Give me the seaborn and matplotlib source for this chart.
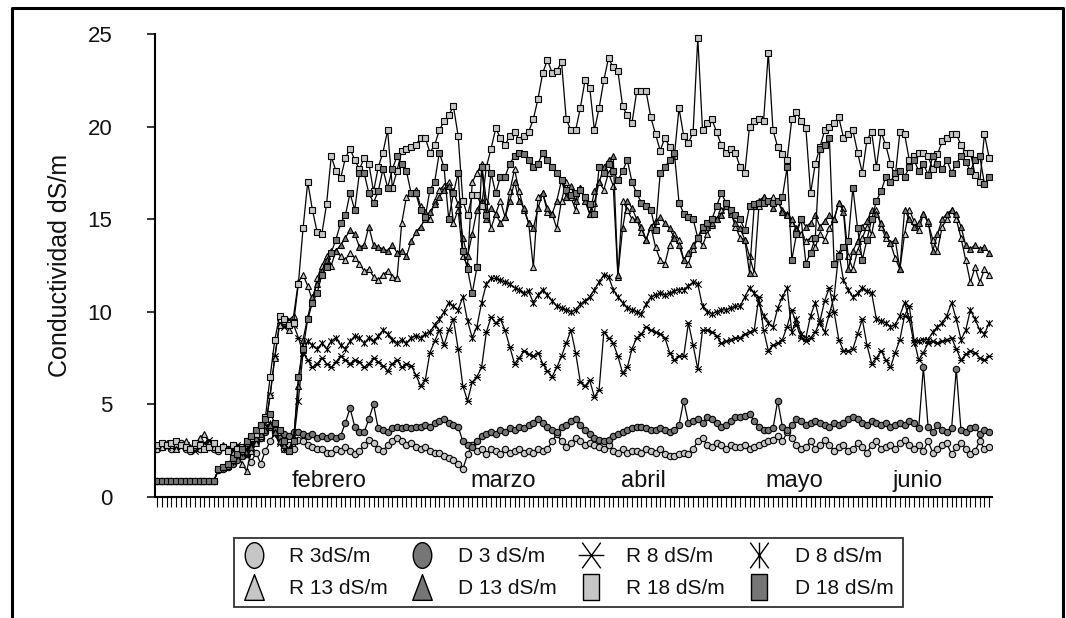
import numpy as np
import matplotlib
matplotlib.use("Agg")
import matplotlib.pyplot as plt
from matplotlib.path import Path
from matplotlib.lines import Line2D
import seaborn as sns

sns.set_style("white")
plt.rcParams["font.family"] = ["Liberation Sans", "DejaVu Sans"]

# Daily electrical conductivity (dS/m) of the drainage, mid-January to late June
r3 = [2.6, 2.7, 2.8, 2.6, 2.7, 2.9, 2.6, 2.5, 2.7, 2.6,
      2.8, 2.7, 2.6, 2.5, 2.7, 2.6, 2.4, 2.7, 2.5, 2.3,
      1.9, 2.4, 1.8, 2.5, 3.0, 3.5, 3.2, 2.6, 2.8, 2.6,
      3.1, 3.0, 2.8, 2.7, 2.6, 2.6, 2.4, 2.4, 2.6, 2.5,
      2.7, 2.5, 2.3, 2.5, 2.8, 3.1, 2.9, 2.6, 2.5, 2.8,
      3.0, 3.2, 3.0, 2.8, 2.9, 2.7, 2.6, 2.7, 2.5, 2.4,
      2.4, 2.2, 2.1, 2.0, 1.8, 1.5, 2.3, 2.8, 2.5, 2.6,
      2.3, 2.6, 2.5, 2.3, 2.6, 2.4, 2.5, 2.6, 2.4, 2.5,
      2.4, 2.6, 2.5, 2.6, 3.0, 3.4, 3.0, 2.7, 2.9, 3.2,
      3.0, 2.8, 2.9, 2.8, 2.7, 2.6, 2.8, 2.5, 2.4, 2.6,
      2.4, 2.5, 2.5, 2.4, 2.6, 2.5, 2.4, 2.6, 2.3, 2.2,
      2.2, 2.3, 2.4, 2.3, 2.6, 3.0, 3.2, 2.8, 2.7, 2.9,
      2.8, 2.6, 2.8, 2.7, 2.7, 2.8, 2.6, 2.7, 2.8, 2.9,
      3.0, 3.1, 3.3, 3.0, 3.5, 3.2, 2.8, 2.6, 2.7, 3.0,
      2.6, 2.8, 3.1, 2.8, 2.5, 2.7, 2.8, 2.5, 2.6, 2.9,
      2.7, 2.4, 2.8, 3.0, 2.6, 2.7, 2.8, 2.6, 2.9, 3.1,
      2.8, 2.6, 2.8, 2.5, 3.0, 2.4, 2.6, 2.8, 2.9, 2.3,
      2.7, 2.9, 2.6, 2.3, 2.5, 3.0, 2.6, 2.7]

d3 = [0.85, 0.85, 0.85, 0.85, 0.85, 0.85, 0.85, 0.85, 0.85, 0.85,
      0.85, 0.85, 0.85, 1.45, 1.5, 1.6, 1.8, 2.0, 2.2, 2.4,
      2.8, 3.0, 3.2, 3.5, 3.8, 3.6, 3.2, 3.4, 3.3, 3.5,
      3.5, 3.4, 3.3, 3.4, 3.2, 3.3, 3.2, 3.3, 3.2, 3.3,
      4.0, 4.8, 3.8, 3.5, 3.5, 4.2, 5.0, 3.7, 3.6, 3.5,
      3.7, 3.8, 3.7, 3.8, 3.7, 3.8, 3.8, 3.9, 3.8, 4.0,
      4.1, 4.2, 4.0, 3.9, 3.8, 3.0, 2.8, 2.7, 3.0, 3.3,
      3.4, 3.5, 3.4, 3.6, 3.5, 3.7, 3.6, 3.8, 3.7, 3.9,
      4.0, 4.2, 4.0, 3.8, 3.6, 3.5, 3.8, 3.9, 4.1, 4.2,
      3.9, 3.6, 3.4, 3.2, 3.1, 3.0, 3.1, 3.3, 3.4, 3.5,
      3.6, 3.7, 3.8, 3.8, 3.7, 3.6, 3.6, 3.7, 3.6, 3.5,
      3.6, 3.9, 5.2, 4.0, 4.1, 4.2, 4.0, 4.3, 4.2, 4.0,
      3.8, 3.9, 4.1, 4.3, 4.3, 4.4, 4.5, 4.1, 3.8, 3.6,
      3.6, 3.7, 5.2, 3.8, 3.6, 3.9, 4.2, 4.1, 3.9, 4.0,
      4.1, 4.0, 3.9, 3.8, 4.0, 3.9, 4.0, 4.2, 4.3, 4.2,
      4.0, 3.9, 4.1, 4.0, 3.9, 4.0, 3.8, 3.9, 4.0, 3.9,
      4.1, 4.0, 3.7, 7.0, 3.8, 3.5, 3.9, 3.6, 3.5, 3.7,
      6.9, 3.6, 3.5, 3.7, 3.8, 3.4, 3.6, 3.5]

r8 = [2.7, 2.8, 2.7, 2.9, 2.6, 2.7, 2.8, 2.6, 2.5, 2.7,
      2.9, 3.1, 2.8, 2.6, 2.7, 2.5, 2.6, 2.8, 2.4, 2.2,
      2.6, 3.0, 3.2, 3.8, 5.5, 7.6, 9.4, 9.2, 9.6, 9.3,
      8.6, 7.8, 7.4, 7.0, 7.2, 7.5, 7.2, 7.0, 7.3, 7.6,
      7.4, 7.2, 7.4, 7.3, 7.0, 7.2, 7.5, 7.3, 7.1, 6.8,
      7.2, 7.4, 7.0, 7.2, 7.1, 6.6, 6.0, 6.3, 7.8, 8.4,
      9.0, 8.2, 9.0, 9.6, 8.0, 6.0, 5.2, 6.2, 6.5, 7.0,
      8.9, 9.7, 9.4, 9.6, 9.0, 8.1, 7.2, 7.5, 7.9, 7.7,
      7.6, 7.8, 7.2, 6.8, 6.5, 7.0, 7.6, 8.3, 9.0, 7.8,
      6.2, 6.0, 6.3, 5.4, 5.8, 8.9, 8.6, 8.3, 7.6, 6.7,
      7.0, 8.0, 8.6, 8.8, 9.2, 9.0, 8.9, 8.8, 8.6, 7.8,
      7.4, 7.6, 7.6, 9.4, 8.2, 6.9, 9.0, 9.0, 8.9, 8.7,
      8.3, 8.4, 8.5, 8.6, 8.6, 8.8, 8.9, 9.0, 10.8, 9.0,
      7.9, 8.2, 8.3, 8.5, 9.2, 10.1, 9.3, 8.6, 8.4, 8.6,
      8.9, 9.5, 10.6, 11.3, 10.0, 8.5, 7.9, 7.9, 8.0, 8.8,
      9.6, 8.2, 7.2, 7.5, 7.9, 7.4, 7.0, 7.8, 8.5, 9.8,
      10.3, 8.5, 7.4, 7.8, 8.3, 8.4, 8.3, 8.4, 8.5, 8.6,
      8.0, 7.4, 7.7, 7.9, 7.8, 7.5, 7.4, 7.6]

d8 = [0.85, 0.85, 0.85, 0.85, 0.85, 0.85, 0.85, 0.85, 0.85, 0.85,
      0.85, 0.85, 0.85, 1.5, 1.55, 1.7, 1.9, 2.2, 2.4, 2.6,
      2.9, 3.1, 3.3, 3.8, 4.0, 3.4, 2.9, 2.6, 2.5, 3.0,
      5.2, 7.8, 8.4, 8.2, 8.0, 8.3, 8.0, 8.4, 8.6, 8.2,
      8.0, 8.4, 8.7, 8.6, 8.3, 8.6, 8.4, 8.7, 9.0, 8.8,
      8.5, 8.3, 8.5, 8.3, 8.6, 8.7, 8.6, 8.8, 8.9, 9.3,
      9.6, 10.0, 10.5, 10.3, 10.1, 10.8, 9.5, 8.6, 9.2, 10.5,
      11.5, 11.8, 11.8, 11.7, 11.6, 11.5, 11.3, 11.2, 11.0, 11.1,
      10.5, 10.9, 11.2, 10.9, 10.6, 10.3, 10.2, 10.1, 10.0, 10.1,
      10.4, 10.6, 10.8, 11.2, 11.6, 12.0, 11.9, 11.2, 10.8, 10.5,
      10.2, 10.1, 10.0, 9.9, 10.4, 10.8, 10.9, 11.0, 10.9, 11.0,
      11.1, 11.2, 11.2, 11.4, 11.6, 11.5, 10.3, 10.0, 9.9, 10.0,
      10.1, 10.1, 10.2, 10.3, 10.3, 10.8, 11.3, 11.0, 10.5, 9.8,
      9.4, 9.2, 10.2, 10.8, 11.3, 8.9, 9.6, 8.8, 8.6, 9.8,
      10.5, 9.4, 8.9, 9.9, 10.8, 13.2, 11.7, 11.2, 10.8, 11.0,
      11.3, 11.1, 11.0, 9.6, 9.5, 9.4, 9.2, 9.3, 9.8, 10.5,
      9.6, 8.3, 8.4, 8.5, 8.5, 8.9, 9.2, 9.4, 9.8, 10.5,
      9.6, 8.5, 9.0, 10.1, 9.6, 9.0, 8.8, 9.4]

r13 = [2.8, 2.7, 2.9, 2.8, 2.6, 2.8, 3.0, 2.7, 2.8, 3.2,
       3.4, 2.9, 2.7, 2.6, 2.8, 2.6, 2.4, 2.3, 1.8, 1.4,
       2.5, 2.9, 3.3, 3.8, 5.5, 7.5, 9.3, 9.5, 9.0, 9.8,
       11.6, 12.0, 11.4, 10.6, 11.8, 12.5, 13.0, 12.5, 13.3, 13.0,
       12.8, 13.2, 12.9, 12.6, 12.2, 12.3, 11.9, 11.7, 12.0, 12.2,
       11.9, 11.8, 14.8, 16.2, 16.4, 16.6, 15.7, 15.4, 15.0, 16.0,
       16.6, 16.8, 17.0, 14.8, 15.5, 13.0, 12.5, 17.0, 17.5, 18.0,
       16.0, 14.5, 15.3, 16.0, 15.1, 16.5, 17.7, 16.5, 15.5, 14.8,
       12.4, 16.2, 16.4, 15.4, 15.3, 14.5, 16.0, 17.0, 16.2, 15.5,
       16.7, 16.0, 15.3, 15.9, 17.0, 16.6, 17.5, 16.8, 11.9, 16.0,
       15.5, 15.0, 15.0, 14.3, 13.9, 14.6, 13.5, 12.8, 12.6, 13.6,
       14.2, 13.9, 12.8, 12.6, 13.4, 14.0, 13.6, 14.2, 14.7, 15.0,
       15.5, 15.7, 15.4, 14.6, 14.0, 13.9, 13.0, 12.1, 15.7, 16.2,
       16.0, 16.2, 16.0, 15.5, 15.3, 14.8, 14.5, 14.2, 13.8, 14.0,
       13.5, 14.2, 13.9, 14.5, 15.0, 15.9, 15.6, 13.0, 12.3, 13.3,
       14.0, 14.6, 14.2, 15.5, 14.6, 14.0, 13.7, 12.9, 12.3, 14.2,
       15.5, 14.9, 14.4, 15.3, 14.8, 13.9, 13.3, 14.6, 15.0, 15.5,
       15.0, 14.0, 12.8, 11.6, 12.4, 11.6, 12.3, 12.0]

d13 = [0.85, 0.85, 0.85, 0.85, 0.85, 0.85, 0.85, 0.85, 0.85, 0.85,
       0.85, 0.85, 0.85, 1.5, 1.6, 1.7, 2.0, 2.3, 2.5, 2.9,
       2.7, 3.2, 3.4, 3.6, 3.9, 3.5, 3.0, 2.8, 2.6, 3.2,
       6.0, 8.5, 9.7, 10.8, 11.5, 12.2, 12.8, 13.3, 13.3, 13.6,
       14.0, 14.4, 14.2, 13.5, 13.6, 14.6, 13.6, 13.5, 13.4, 13.3,
       13.6, 13.2, 13.3, 13.0, 13.8, 14.3, 14.6, 15.0, 15.4, 15.8,
       16.2, 16.6, 16.8, 16.5, 15.8, 14.0, 13.0, 14.2, 15.5, 16.0,
       15.0, 15.6, 15.3, 14.8, 15.1, 16.0, 17.0, 16.0, 15.6, 14.8,
       14.5, 15.6, 16.4, 15.6, 15.3, 16.0, 17.1, 16.2, 16.8, 16.0,
       16.7, 16.0, 15.3, 16.5, 17.0, 17.8, 18.2, 18.4, 12.0, 14.5,
       16.0, 15.6, 15.0, 14.6, 13.9, 14.6, 14.9, 15.1, 14.8, 14.5,
       14.0, 13.6, 12.8, 13.2, 13.6, 14.0, 14.4, 14.6, 14.8, 15.0,
       15.2, 15.7, 15.3, 14.8, 14.5, 13.9, 12.1, 15.7, 16.0, 16.2,
       16.0, 15.6, 16.0, 15.4, 15.2, 15.0, 14.4, 15.0, 14.6, 14.8,
       15.2, 14.6, 14.9, 15.2, 15.0, 15.9, 15.4, 12.3, 13.3, 13.8,
       14.6, 14.9, 15.5, 15.3, 14.8, 14.2, 13.7, 13.9, 12.3, 15.5,
       15.0, 14.6, 14.8, 15.3, 14.9, 13.3, 14.2, 15.0, 15.3, 15.5,
       15.3, 14.6, 13.6, 13.4, 13.6, 13.4, 13.5, 13.2]

r18 = [2.8, 2.9, 2.8, 2.9, 3.0, 2.8, 2.7, 2.6, 2.9, 2.8,
       2.6, 2.7, 2.9, 2.6, 2.7, 2.5, 2.8, 2.6, 2.7, 3.0,
       3.2, 3.4, 3.6, 4.3, 6.5, 8.5, 9.8, 9.6, 9.3, 9.4,
       11.5, 14.5, 17.0, 15.5, 14.3, 14.2, 15.8, 18.4, 17.6, 17.2,
       18.3, 18.8, 18.2, 17.7, 18.3, 18.0, 16.5, 17.8, 18.6, 19.8,
       16.7, 17.6, 18.7, 18.8, 18.9, 19.0, 19.4, 19.4, 18.6, 19.0,
       19.8, 20.3, 20.6, 21.1, 19.5, 16.0, 15.2, 16.3, 16.3, 15.7,
       17.8, 18.8, 19.9, 19.4, 19.0, 19.5, 19.7, 19.3, 19.5, 19.7,
       20.4, 21.5, 22.9, 23.6, 22.9, 23.0, 23.5, 20.4, 19.8, 19.8,
       21.0, 22.5, 22.1, 19.8, 21.0, 22.5, 23.7, 23.2, 23.0, 21.1,
       20.6, 20.2, 21.9, 21.9, 21.9, 20.5, 19.6, 18.7, 19.4, 18.9,
       18.4, 21.0, 19.5, 19.1, 19.7, 24.8, 19.8, 20.2, 20.4, 19.7,
       19.0, 18.6, 18.8, 18.6, 17.8, 17.5, 20.0, 20.3, 20.4, 20.3,
       24.0, 19.8, 18.9, 18.5, 18.2, 20.4, 20.8, 20.3, 19.9, 16.4,
       18.0, 18.9, 19.8, 20.0, 20.2, 20.5, 19.4, 19.6, 19.8, 18.6,
       17.5, 19.3, 19.7, 17.8, 19.7, 19.0, 18.0, 17.3, 19.7, 19.6,
       18.2, 18.4, 18.6, 18.6, 18.4, 17.7, 18.5, 19.2, 19.4, 19.6,
       19.6, 19.0, 18.6, 18.6, 17.4, 17.0, 19.6, 18.3]

d18 = [0.85, 0.85, 0.85, 0.85, 0.85, 0.85, 0.85, 0.85, 0.85, 0.85,
       0.85, 0.85, 0.85, 1.5, 1.6, 1.8, 2.1, 2.3, 2.6, 3.0,
       3.3, 3.6, 3.9, 4.2, 4.5, 4.0, 3.6, 3.0, 2.5, 3.0,
       6.5, 8.0, 9.6, 10.5, 11.0, 12.0, 12.4, 13.2, 13.9, 14.8,
       15.2, 16.4, 15.5, 17.5, 17.5, 16.4, 15.9, 16.5, 17.7, 16.7,
       17.7, 18.4, 18.0, 17.6, 16.4, 16.4, 15.5, 15.1, 16.6, 17.0,
       18.6, 17.8, 15.0, 16.4, 17.5, 13.3, 12.3, 11.0, 12.4, 17.8,
       15.2, 17.5, 16.4, 17.3, 17.3, 18.0, 18.4, 18.6, 18.5, 18.2,
       17.8, 18.0, 18.6, 18.2, 17.8, 17.5, 17.1, 16.6, 16.3, 16.4,
       16.6, 16.2, 15.8, 15.3, 17.8, 17.5, 18.0, 17.6, 17.1, 17.6,
       18.2, 17.0, 16.4, 15.9, 15.7, 15.5, 14.4, 17.5, 17.8, 18.2,
       18.6, 15.9, 15.3, 15.1, 15.0, 14.0, 14.6, 14.8, 15.0, 15.7,
       16.4, 15.9, 15.5, 15.2, 15.0, 14.4, 15.7, 15.8, 15.9, 15.9,
       16.0, 15.9, 16.0, 16.2, 17.8, 12.8, 14.2, 15.0, 12.6, 13.2,
       14.0, 18.8, 19.0, 19.4, 12.6, 13.0, 13.5, 13.8, 16.7, 14.5,
       12.8, 13.9, 15.0, 16.0, 16.5, 17.3, 17.0, 17.5, 17.6, 17.3,
       17.8, 18.2, 17.6, 18.0, 17.4, 18.4, 18.0, 17.7, 18.2, 17.5,
       18.0, 18.4, 18.1, 17.6, 18.2, 18.4, 16.9, 17.3]

labels = ["R 3dS/m", "D 3 dS/m", "R 8 dS/m", "D 8 dS/m",
          "R 13 dS/m", "D 13 dS/m", "R 18 dS/m", "D 18 dS/m"]
months = ["febrero", "marzo", "abril", "mayo", "junio"]
month_day = [36.6, 73.5, 103.5, 135.6, 161.8]
y_ticks = [0, 5, 10, 15, 20, 25]

days = np.arange(len(r3))

LIGHT = "#c6c6c6"
DARK = "#767676"


def seg_marker(segments):
    verts, codes = [], []
    for (a, b) in segments:
        verts += [a, b]
        codes += [Path.MOVETO, Path.LINETO]
    return Path(verts, codes)


def star_h(w=0.5):
    return seg_marker([((-w, -0.5), (w, 0.5)), ((-w, 0.5), (w, -0.5)),
                       ((-0.5, 0), (0.5, 0))])


def star_v(w=0.5):
    return seg_marker([((-w, -0.5), (w, 0.5)), ((-w, 0.5), (w, -0.5)),
                       ((0, -0.5), (0, 0.5))])


# Tall glyphs used in the key
ellipse = Path(Path.unit_circle().vertices * np.array([0.36, 0.5]),
               Path.unit_circle().codes)
tall_tri = Path([(-0.38, -0.5), (0.38, -0.5), (0, 0.5), (-0.38, -0.5)],
                [Path.MOVETO, Path.LINETO, Path.LINETO, Path.CLOSEPOLY])
tall_sq = Path([(-0.32, -0.5), (0.32, -0.5), (0.32, 0.5), (-0.32, 0.5), (-0.32, -0.5)],
               [Path.MOVETO, Path.LINETO, Path.LINETO, Path.LINETO, Path.CLOSEPOLY])

series = [
    (r3, "o", LIGHT, ellipse),
    (d3, "o", DARK, ellipse),
    (r8, star_h(), "none", star_h(0.36)),
    (d8, star_v(), "none", star_v(0.36)),
    (r13, "^", LIGHT, tall_tri),
    (d13, "^", DARK, tall_tri),
    (r18, "s", LIGHT, tall_sq),
    (d18, "s", DARK, tall_sq),
]

fig = plt.figure(figsize=(10.66, 6.18), dpi=100)
ax = fig.add_axes([155 / 1066, 1 - 497 / 618, (992 - 155) / 1066, (497 - 34) / 618])

handles = []
for (vals, mk, face, key_mk), lab in zip(series, labels):
    sns.lineplot(x=days, y=vals, ax=ax, color="black", linewidth=0.9,
                 marker=mk, markersize=4.6, markerfacecolor=face,
                 markeredgecolor="black", markeredgewidth=0.8, legend=False)
    handles.append(Line2D([], [], linestyle="none", marker=key_mk, markersize=18.5,
                          markerfacecolor=face, markeredgecolor="black",
                          markeredgewidth=1.0, label=lab))

for name, pos in zip(months, month_day):
    ax.text(pos, 0.55, name, ha="center", va="baseline", fontsize=17, color="#111111")

ax.set_xlim(-0.5, 177.6)
ax.set_ylim(0, 25)
ax.set_xticks(days)
ax.set_yticks(y_ticks)
ax.tick_params(axis="x", which="major", direction="out", length=7.2, width=0.8,
               labelbottom=False, bottom=True, color="black")
ax.tick_params(axis="y", which="major", direction="out", length=5.8, width=1.1,
               pad=25, labelsize=16, left=True, color="black", labelcolor="#111111")
ax.set_xlabel("")
ax.set_ylabel("Conductividad dS/m", fontsize=18, labelpad=11, color="#111111")
for side in ("top", "right"):
    ax.spines[side].set_visible(False)
for side in ("left", "bottom"):
    ax.spines[side].set_color("black")
    ax.spines[side].set_linewidth(1.5)

# Key below the plot, rows filled left to right
order = [0, 4, 1, 5, 2, 6, 3, 7]
leg = fig.legend([handles[i] for i in order], [labels[i] for i in order],
                 ncol=4, loc="upper left",
                 bbox_to_anchor=(234 / 1066, 1 - 538 / 618, (903 - 234) / 1066, 0.0),
                 bbox_transform=fig.transFigure, mode="expand", borderaxespad=0,
                 fontsize=15, frameon=True, fancybox=False, shadow=False,
                 handlelength=1.0, handletextpad=1.2, labelspacing=0.6,
                 borderpad=0.45, columnspacing=0.8)
leg.get_frame().set_edgecolor("black")
leg.get_frame().set_linewidth(1.3)
for t in leg.get_texts():
    t.set_color("#111111")

# Outer border around the figure
fig.add_artist(Line2D([11.5 / 1066, 11.5 / 1066, 1062.5 / 1066, 1062.5 / 1066],
                      [0, 1 - 8 / 618, 1 - 8 / 618, 0],
                      transform=fig.transFigure, color="black", linewidth=2.2))

fig.savefig("out.png", dpi=100)
